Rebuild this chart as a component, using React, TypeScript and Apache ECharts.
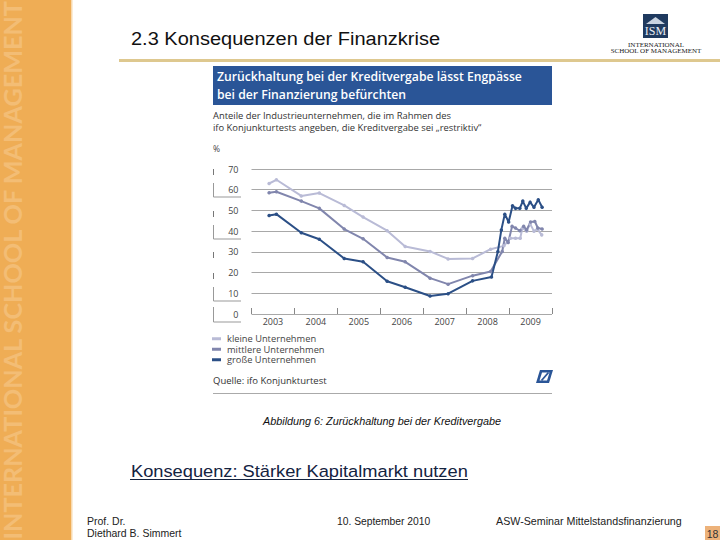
import React, { useEffect, useRef } from "react";
import * as echarts from "echarts";

const years = ["2003", "2004", "2005", "2006", "2007", "2008", "2009"];
const yTicks = [0, 10, 20, 30, 40, 50, 60, 70];

const kleine = [
  [2003.41, 63], [2003.58, 64.8], [2004.16, 57], [2004.58, 58.4], [2005.16, 52.4], [2005.6, 46.8],
  [2006.16, 40.2], [2006.58, 32.6], [2007.16, 30.2], [2007.58, 26.6], [2008.15, 26.8], [2008.57, 31.3],
  [2008.88, 32.9], [2009.03, 36.6], [2009.15, 36.6], [2009.26, 36.6], [2009.31, 41.5], [2009.41, 40],
  [2009.49, 43.5], [2009.58, 40], [2009.66, 41], [2009.76, 38.2],
];
const mittlere = [
  [2003.41, 58.5], [2003.58, 59], [2004.16, 54.5], [2004.58, 51], [2005.16, 41], [2005.6, 36.3],
  [2006.16, 27.3], [2006.58, 25.2], [2007.16, 17.3], [2007.58, 14.4], [2008.15, 18.5], [2008.57, 20.5],
  [2008.84, 30.2], [2008.9, 36.6], [2008.98, 34.5], [2009.07, 42.3], [2009.15, 41.5], [2009.25, 40.2],
  [2009.34, 42.3], [2009.41, 40.6], [2009.5, 44.4], [2009.6, 44.7], [2009.67, 41.5], [2009.77, 41],
];
const grosse = [
  [2003.41, 47.6], [2003.58, 48.2], [2004.16, 39.2], [2004.58, 36.1], [2005.16, 26.8], [2005.6, 25.2],
  [2006.16, 15.8], [2006.58, 12.9], [2007.16, 8.7], [2007.58, 9.8], [2008.15, 16], [2008.59, 17.9],
  [2008.74, 30.2], [2008.82, 40.6], [2008.9, 48.2], [2008.99, 44.4], [2009.08, 52.3], [2009.15, 51],
  [2009.25, 51], [2009.32, 54.5], [2009.4, 51], [2009.49, 54], [2009.58, 51.5], [2009.68, 55.2], [2009.77, 51.5],
];

const SANS = "'Liberation Sans', Arial, sans-serif";
const CHART = "'Open Sans', 'Noto Sans', sans-serif";
const SERIF = "'Liberation Serif', serif";

function txt(x: number, y: number, text: string, fontSize: number, fill: string, extra: any = {}, styleExtra: any = {}) {
  return {
    type: "text",
    x,
    y,
    ...extra,
    style: { text, fontSize, fill, fontFamily: SANS, textVerticalAlign: "middle", ...styleExtra },
  };
}
function ln(x1: number, y1: number, x2: number, y2: number, stroke: string, lineWidth = 1) {
  return { type: "line", shape: { x1, y1, x2, y2 }, style: { stroke, lineWidth } };
}

export default function App() {
  const ref = useRef<HTMLDivElement>(null);
  useEffect(() => {
    document.body.style.margin = "0";
    const chart = echarts.init(ref.current!, null, { renderer: "svg" });
    const series = (name: string, data: number[][], color: string, width: number) => ({
      name,
      type: "line",
      xAxisIndex: 1,
      yAxisIndex: 0,
      data,
      symbol: "circle",
      symbolSize: 3.5,
      lineStyle: { color, width },
      itemStyle: { color },
      z: 5,
    });
    const bracket = [
      ln(213.5, 169, 213.5, 175, "#777"),
      ln(213.5, 183, 213.5, 197, "#999"),
      ln(213.5, 197, 241, 197, "#999"),
      ln(213.5, 211, 213.5, 217, "#777"),
      ln(213.5, 225, 213.5, 239, "#999"),
      ln(213.5, 239, 241, 239, "#999"),
      ln(213.5, 252, 213.5, 258, "#777"),
      ln(213.5, 273, 213.5, 279, "#777"),
      ln(213.5, 287, 213.5, 301, "#999"),
      ln(213.5, 301, 241, 301, "#999"),
      ln(213.5, 307, 213.5, 322, "#999"),
      ln(213.5, 322, 241, 322, "#999"),
    ];
    chart.setOption({
      animation: false,
      backgroundColor: "#fff",
      grid: { left: 251.5, right: 168, top: 169, bottom: 226 },
      legend: {
        orient: "vertical",
        left: 212,
        top: 333.5,
        itemGap: 0,
        itemWidth: 9,
        itemHeight: 3,
        icon: "rect",
        padding: 0,
        textStyle: { fontFamily: CHART, fontSize: 9.3, lineHeight: 10.5, color: "#444", padding: [0, 0, 0, 1] },
        data: ["kleine Unternehmen", "mittlere Unternehmen", "große Unternehmen"],
      },
      xAxis: [
        {
          type: "category",
          data: years,
          boundaryGap: true,
          axisLine: { show: false },
          axisTick: { show: true, inside: true, length: 6, lineStyle: { color: "#888" } },
          axisLabel: { fontFamily: CHART, fontSize: 9, color: "#444", margin: 3 },
        },
        { type: "value", min: 2003, max: 2010, show: false },
      ],
      yAxis: {
        type: "value",
        min: 0,
        max: 70,
        interval: 10,
        axisLine: { show: false },
        axisTick: { show: false },
        splitLine: { lineStyle: { color: "#a8a8a8", width: 1 } },
        axisLabel: {
          fontFamily: CHART,
          fontSize: 9,
          color: "#444",
          margin: 13,
          formatter: (v: number) => (yTicks.includes(v) ? String(v) : ""),
        },
      },
      series: [
        series("kleine Unternehmen", kleine, "#B9BBD6", 2),
        series("mittlere Unternehmen", mittlere, "#8186AD", 2),
        series("große Unternehmen", grosse, "#2B4F86", 2),
      ],
      graphic: [
        { type: "rect", z: -1, shape: { x: 0, y: 0, width: 71, height: 540 }, style: { fill: "#EFAD55" } },
        { type: "rect", z: -1, shape: { x: 71, y: 0, width: 1.5, height: 540 }, style: { fill: "#F8D9AE" } },
        txt(12, 539.5, "INTERNATIONAL SCHOOL OF MANAGEMENT", 24, "#F3BD75", { rotation: Math.PI / 2, scaleX: 1.05, scaleY: 1.05 }, { fontFamily: "Lato, 'Open Sans', sans-serif", fontWeight: "bold", textAlign: "left" }),
        txt(131, 38, "2.3 Konsequenzen der Finanzkrise", 19, "#111", { scaleX: 1.053 }),
        { type: "rect", shape: { x: 119, y: 59, width: 601, height: 3 }, style: { fill: "#DEC88F" } },
        { type: "rect", shape: { x: 643, y: 14, width: 25, height: 24 }, style: { fill: "#1F3A5F" } },
        { type: "polygon", shape: { points: [[646, 24], [655.5, 17], [665, 24]] }, style: { fill: "#C9D3E0" } },
        txt(655.5, 31, "ISM", 12, "#E8EDF3", {}, { fontFamily: SERIF, textAlign: "center" }),
        txt(656, 44.5, "INTERNATIONAL", 7, "#222", {}, { fontFamily: SERIF, textAlign: "center" }),
        txt(656, 51, "SCHOOL OF MANAGEMENT", 7, "#222", {}, { fontFamily: SERIF, textAlign: "center" }),
        { type: "rect", shape: { x: 213, y: 66, width: 339, height: 39 }, style: { fill: "#2A5597" } },
        txt(217, 76.5, "Zurückhaltung bei der Kreditvergabe lässt Engpässe", 12.2, "#fff", {}, { fontFamily: CHART, fontWeight: 600 }),
        txt(217, 94.5, "bei der Finanzierung befürchten", 12.2, "#fff", {}, { fontFamily: CHART, fontWeight: 600 }),
        txt(213, 115.5, "Anteile der Industrieunternehmen, die im Rahmen des", 9.4, "#333", {}, { fontFamily: CHART }),
        txt(213, 127.5, "ifo Konjunkturtests angeben, die Kreditvergabe sei „restriktiv“", 9.4, "#333", {}, { fontFamily: CHART }),
        txt(213, 148, "%", 8.5, "#444", {}, { fontFamily: CHART }),
        ...bracket,
        txt(213, 380.5, "Quelle: ifo Konjunkturtest", 9.5, "#333", {}, { fontFamily: CHART }),
        { type: "polygon", shape: { points: [[540, 370], [553, 370], [549, 383], [536, 383]] }, style: { fill: "#2A5597" } },
        { type: "polygon", shape: { points: [[542, 372.5], [549.5, 372.5], [547, 380.5], [539.5, 380.5]] }, style: { fill: "#fff" } },
        ln(541.5, 380.5, 548.5, 372.5, "#2A5597", 1.8),
        ln(213, 393.5, 552, 393.5, "#aaa"),
        txt(263, 422, "Abbildung 6: Zurückhaltung bei der Kreditvergabe", 10, "#111", { scaleX: 1.083 }, { fontStyle: "italic" }),
        txt(131, 471.5, "Konsequenz: Stärker Kapitalmarkt nutzen", 17, "#14233f", { scaleX: 1.075 }),
        ln(130, 479.5, 468, 479.5, "#14233f", 1.2),
        txt(87, 521.5, "Prof. Dr.", 10, "#222", { scaleX: 1.05 }),
        txt(87, 533.5, "Diethard B. Simmert", 10, "#222", { scaleX: 1.05 }),
        txt(337, 521.5, "10. September 2010", 10, "#222", { scaleX: 1.03 }),
        txt(496, 521.5, "ASW-Seminar Mittelstandsfinanzierung", 10, "#222", { scaleX: 1.07 }),
        { type: "rect", shape: { x: 705, y: 526, width: 15, height: 14 }, style: { fill: "#EDB27A" } },
        txt(712.5, 533.5, "18", 10.5, "#333", {}, { textAlign: "center" }),
      ],
    });
    return () => chart.dispose();
  }, []);
  return <div ref={ref} style={{ width: 720, height: 540 }} />;
}
